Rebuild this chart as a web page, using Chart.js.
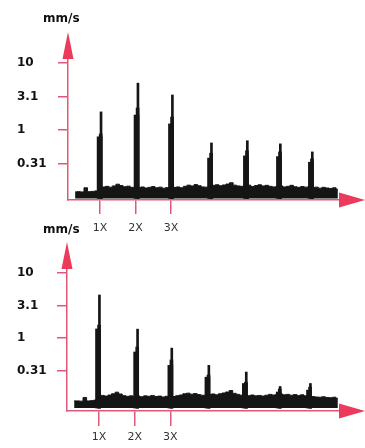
<!DOCTYPE html>
<html>
<head>
<meta charset="utf-8">
<script src="https://cdn.jsdelivr.net/npm/chart.js@4/dist/chart.umd.min.js"></script>
<style>
  html, body { margin: 0; padding: 0; background: #fff; }
  #wrap { position: relative; width: 365px; height: 448px; overflow: hidden; }
  canvas { position: absolute; left: 0; }
  #top { top: 0; }
  #bottom { top: 224px; }
</style>
</head>
<body>
<div id="wrap">
  <canvas id="top" width="365" height="240"></canvas>
  <canvas id="bottom" width="365" height="224"></canvas>
</div>
<script>
// x in multiples of running speed, y in mm/s (log axis)
const orderTicks = [1, 2, 3];
const orderLabels = ['1X', '2X', '3X'];
const yTickValues = [0.31, 1, 3.1, 10];
const yTickLabels = ['0.31', '1', '3.1', '10'];

// noise floor sampled every 0.1X from 0.3X to 7.7X
const noiseFreqs = Array.from({ length: 75 }, (_, i) => +(0.3 + i * 0.1).toFixed(1));

const topNoise = [
    0.119, 0.120, 0.119, 0.137, 0.120, 0.121, 0.123, 0.128, 0.141, 0.144,
    0.140, 0.146, 0.155, 0.148, 0.142, 0.145, 0.139, 0.136, 0.138, 0.141,
    0.136, 0.139, 0.143, 0.137, 0.140, 0.135, 0.138, 0.137, 0.139, 0.141,
    0.137, 0.144, 0.150, 0.146, 0.153, 0.147, 0.141, 0.140, 0.145, 0.149,
    0.152, 0.147, 0.151, 0.156, 0.163, 0.150, 0.146, 0.144, 0.147, 0.150,
    0.143, 0.148, 0.152, 0.146, 0.149, 0.144, 0.141, 0.143, 0.146, 0.141,
    0.144, 0.149, 0.142, 0.139, 0.143, 0.140, 0.142, 0.138, 0.140, 0.135,
    0.139, 0.136, 0.134, 0.137, 0.130,
];
const topPeakFreqs = [0.99, 2.03, 3.0, 4.1, 5.11, 6.04, 6.94];
const topPeakBody = [0.79, 1.67, 1.23, 0.38, 0.41, 0.40, 0.33];
const topPeakShoulder = [0.87, 2.13, 1.56, 0.45, 0.49, 0.47, 0.37];
const topPeakSpike = [1.86, 5.0, 3.33, 0.64, 0.69, 0.62, 0.47];

const bottomNoise = [
    0.108, 0.108, 0.107, 0.122, 0.108, 0.109, 0.111, 0.118, 0.131, 0.128,
    0.133, 0.139, 0.147, 0.138, 0.130, 0.127, 0.129, 0.126, 0.128, 0.125,
    0.129, 0.127, 0.131, 0.126, 0.128, 0.124, 0.127, 0.128, 0.126, 0.130,
    0.133, 0.139, 0.142, 0.137, 0.140, 0.135, 0.132, 0.131, 0.135, 0.138,
    0.134, 0.139, 0.143, 0.148, 0.156, 0.141, 0.136, 0.132, 0.134, 0.130,
    0.133, 0.129, 0.131, 0.128, 0.132, 0.136, 0.133, 0.135, 0.138, 0.134,
    0.136, 0.132, 0.135, 0.131, 0.134, 0.129, 0.127, 0.126, 0.124, 0.123,
    0.125, 0.122, 0.121, 0.123, 0.118,
];
const bottomPeakFreqs = [0.97, 2.04, 3.0, 4.04, 5.09, 6.04, 6.89];
const bottomPeakBody = [1.38, 0.61, 0.38, 0.25, 0.20, 0.148, 0.158];
const bottomPeakShoulder = [1.58, 0.73, 0.46, 0.27, 0.21, 0.165, 0.176];
const bottomPeakSpike = [4.59, 1.37, 0.70, 0.38, 0.30, 0.18, 0.20];

const INK = '#151515';
const AXIS = '#e05877';
const ARROW = '#eb3a5b';
const FONT = 'DejaVu Sans';

// red arrow heads on both axes + the unit label
const axisArrows = {
    id: 'axisArrows',
    afterDraw(chart, args, opts) {
        const { ctx, chartArea: a } = chart;
        ctx.save();
        ctx.fillStyle = ARROW;
        ctx.beginPath();
        ctx.moveTo(a.left, a.top - 26);
        ctx.lineTo(a.left - 5.5, a.top + 1);
        ctx.lineTo(a.left + 5.5, a.top + 1);
        ctx.closePath();
        ctx.fill();
        ctx.beginPath();
        ctx.moveTo(a.right + 25, a.bottom);
        ctx.lineTo(a.right - 1, a.bottom - 7.5);
        ctx.lineTo(a.right - 1, a.bottom + 7.5);
        ctx.closePath();
        ctx.fill();
        ctx.fillStyle = '#111';
        ctx.font = `bold 12px "${FONT}"`;
        ctx.textBaseline = 'middle';
        ctx.fillText('mm/s', 43, opts.unitY);
        ctx.restore();
    },
};

function points(xs, ys, dx) {
    return xs.map((x, i) => ({ x: x + dx, y: ys[i] }));
}

function spectrumChart(id, cfg) {
    const bar = (ys, dx, w) => ({
        data: points(cfg.freqs, ys, dx),
        backgroundColor: INK,
        borderWidth: 0,
        barThickness: w,
        grouped: false,
        base: cfg.floor,
    });

    return new Chart(document.getElementById(id), {
        type: 'bar',
        data: {
            datasets: [
                {
                    type: 'line',
                    data: points(noiseFreqs, cfg.noise, 0),
                    stepped: 'middle',
                    fill: { value: cfg.floor },
                    borderColor: INK,
                    backgroundColor: INK,
                    borderWidth: 1,
                    pointRadius: 0,
                },
                bar(cfg.body, 0, 5),
                bar(cfg.shoulder, 0.03, 3),
                bar(cfg.spike, 0.04, 2),
            ],
        },
        options: {
            responsive: false,
            animation: false,
            layout: { padding: { left: 17, right: 25, top: cfg.top, bottom: 0 } },
            plugins: {
                legend: { display: false },
                tooltip: { enabled: false },
                axisArrows: { unitY: cfg.unitY },
            },
            scales: {
                x: {
                    type: 'linear',
                    min: 0.1,
                    max: 7.76,
                    bounds: 'data',
                    offset: false,
                    z: 1,
                    afterBuildTicks: s => { s.ticks = orderTicks.map(v => ({ value: v })); },
                    afterFit: s => { s.height = cfg.xHeight; },
                    border: { color: AXIS, width: 1.5 },
                    grid: { offset: false, drawOnChartArea: false, color: AXIS, lineWidth: 1.5, tickLength: cfg.tickLen },
                    ticks: {
                        padding: cfg.labelPad,
                        color: '#333',
                        font: { family: FONT, size: 11 },
                        maxRotation: 0,
                        autoSkip: false,
                        callback: (v, i) => orderLabels[i],
                    },
                },
                y: {
                    type: 'logarithmic',
                    min: cfg.yMin,
                    max: cfg.yMax,
                    bounds: 'data',
                    z: 1,
                    afterBuildTicks: s => { s.ticks = yTickValues.map(v => ({ value: v })); },
                    afterFit: s => { s.width = cfg.yWidth; },
                    border: { color: AXIS, width: 1.5 },
                    grid: { drawOnChartArea: false, color: AXIS, lineWidth: 1.5, tickLength: 10 },
                    ticks: {
                        crossAlign: 'far',
                        color: '#111',
                        font: { family: FONT, size: 12, weight: 'bold' },
                        autoSkip: false,
                        callback: (v, i) => yTickLabels[i],
                    },
                },
            },
        },
        plugins: [axisArrows],
    });
}

spectrumChart('top', {
    noise: topNoise,
    freqs: topPeakFreqs,
    body: topPeakBody,
    shoulder: topPeakShoulder,
    spike: topPeakSpike,
    yMin: 0.090,
    yMax: 11.87,
    floor: 0.095,
    top: 58,
    yWidth: 51,
    xHeight: 40,
    tickLen: 14,
    labelPad: 8,
    unitY: 19,
});

spectrumChart('bottom', {
    noise: bottomNoise,
    freqs: bottomPeakFreqs,
    body: bottomPeakBody,
    shoulder: bottomPeakShoulder,
    spike: bottomPeakSpike,
    yMin: 0.0755,
    yMax: 11.94,
    floor: 0.0838,
    top: 44,
    yWidth: 50,
    xHeight: 37,
    tickLen: 15,
    labelPad: 5,
    unitY: 6,
});
</script>
</body>
</html>
